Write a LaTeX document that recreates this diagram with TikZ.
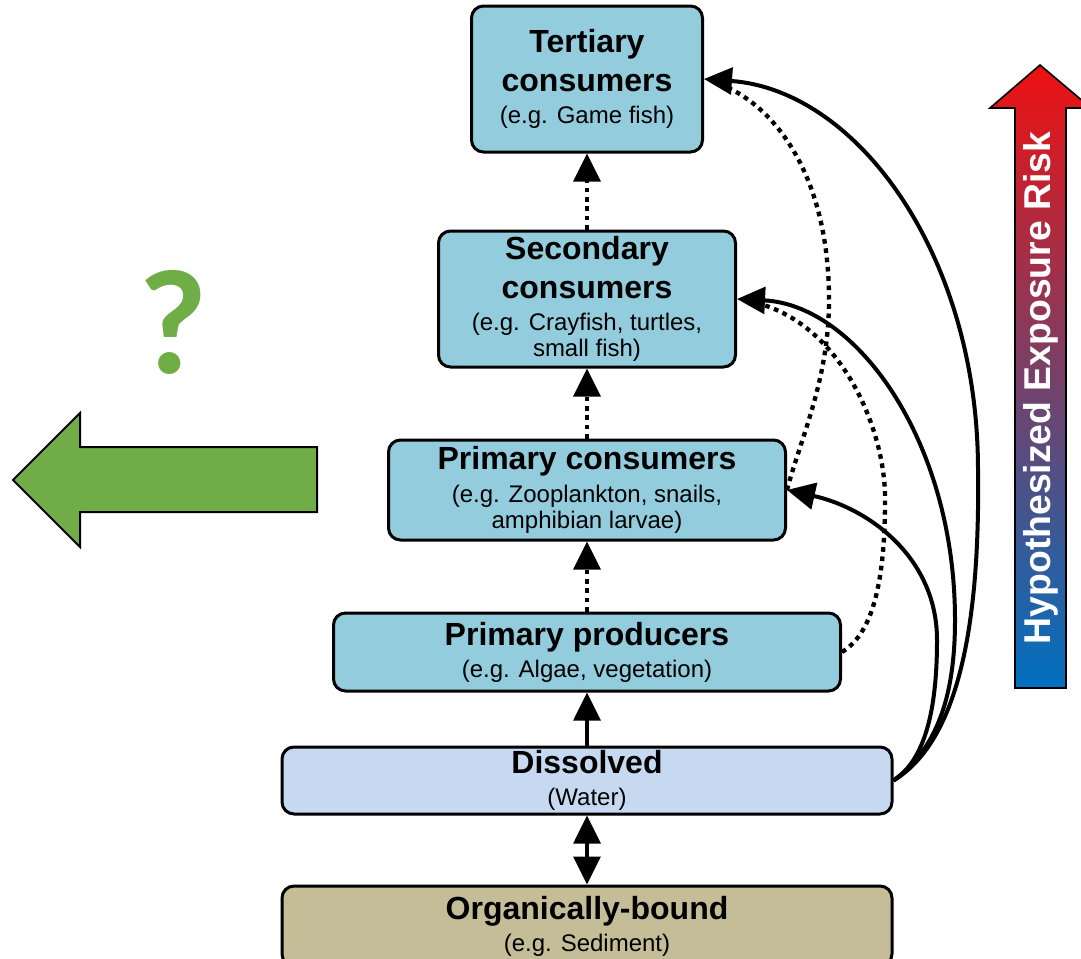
\documentclass[tikz,border=0pt]{standalone}
\usepackage{fontspec}
\setmainfont{Liberation Sans}
\newfontfamily\qmarkfont{Carlito}
\usetikzlibrary{arrows.meta}

\definecolor{consumerblue}{HTML}{93CDDD}
\definecolor{waterblue}{HTML}{C6D9F1}
\definecolor{sedimenttan}{HTML}{C4BD97}
\definecolor{leafgreen}{HTML}{70AD47}
\definecolor{riskred}{HTML}{EE1111}
\definecolor{riskpurple}{HTML}{7F60A6}
\definecolor{riskblue}{HTML}{0070C0}

\newcommand{\titletext}{\bfseries\fontsize{24}{20}\selectfont}
\newcommand{\notetext}{\normalfont\fontsize{18}{20}\selectfont}

\begin{document}
\begin{tikzpicture}[x=0.75pt, y=0.75pt,
			foodnode/.style={rectangle, rounded corners=9pt, draw=black, line width=2.25pt, fill=consumerblue, align=center, inner sep=0pt, font=\notetext},
			waternode/.style={foodnode, fill=waterblue},
			sedimentnode/.style={foodnode, fill=sedimenttan},
			solidlink/.style={line width=3pt, -{Triangle[length=21pt,width=20pt]}},
			dottedlink/.style={solidlink, line width=3.25pt, dash pattern=on 3.5pt off 3.5pt},
			dottedcurve/.style={line width=3.25pt, dash pattern=on 3.5pt off 3.5pt, shorten >=8pt},
			]
			\useasboundingbox (0,0) rectangle (1081,-958);

			%Nodes
			\node[foodnode, minimum width=173.25pt, minimum height=109.5pt] (tert) at (587,-79)
				{\titletext Tertiary\\[9pt]\titletext consumers\\[4pt]\notetext (e.g. Game fish)};
			\node[foodnode, minimum width=222.75pt, minimum height=102pt] (sec) at (587,-299)
				{\titletext Secondary\\[9pt]\titletext consumers\\[4pt]\notetext (e.g. Crayfish, turtles,\\\notetext small fish)};
			\node[foodnode, minimum width=297.75pt, minimum height=75pt] (pc) at (587,-490)
				{\titletext Primary consumers\\[4.5pt]\notetext (e.g. Zooplankton, snails,\\\notetext amphibian larvae)};
			\node[foodnode, minimum width=380.25pt, minimum height=58.5pt] (pp) at (587,-652)
				{\titletext Primary producers\\[4pt]\notetext (e.g. Algae, vegetation)};
			\node[waternode, minimum width=457.5pt, minimum height=50.25pt] (dis) at (587,-780.5)
				{\titletext Dissolved\\[4pt]\notetext (Water)};
			\node[sedimentnode, minimum width=457.5pt, minimum height=60pt] (org) at (587,-926)
				{\titletext Organically-bound\\[4pt]\notetext (e.g. Sediment)};

			%Links up the chain
			\draw[line width=3pt, {Triangle[length=21pt,width=20pt]}-{Triangle[length=21pt,width=20pt]}] (org.north) -- (dis.south);
			\draw[solidlink] (dis.north) -- (pp.south);
			\draw[dottedlink] (pp.north) -- (pc.south);
			\draw[dottedlink] (pc.north) -- (sec.south);
			\draw[dottedlink] (sec.north) -- (tert.south);

			%Side paths
			\draw[dottedcurve] (pc.east) .. controls (800,-440) and (829,-380) .. (829,-300) .. controls (829,-170) and (770,-100) .. (tert.east);
			\draw[dottedcurve] (pp.east) .. controls (870,-635) and (885,-590) .. (885,-500) .. controls (886,-430) and (840,-318) .. (sec.east);
			\draw[solidlink] (dis.east) .. controls (925,-760) and (937,-710) .. (937,-640) .. controls (937,-557) and (868,-508) .. (pc.east);
			\draw[solidlink] (dis.east) .. controls (935,-750) and (955,-700) .. (955,-620) .. controls (955,-442) and (857,-305) .. (sec.east);
			\draw[solidlink] (dis.east) .. controls (960,-740) and (980,-620) .. (978,-470) .. controls (978,-255) and (857,-90) .. (tert.east);

			%Risk arrow
			\shade[draw=black, line width=1.2pt, top color=riskred, middle color=riskpurple, bottom color=riskblue]
				(1015,-688) -- (1015,-108) -- (990,-108) -- (1040,-65) -- (1091,-108) -- (1066,-108) -- (1066,-688) -- cycle;
			\node[rotate=90, text=white, font=\bfseries\fontsize{28}{28}\selectfont] (risk) at (1041,-388) {Hypothesized Exposure Risk};

			%Question and green arrow
			\node[text=leafgreen, font=\qmarkfont\bfseries\fontsize{112}{112}\selectfont] (qmark) at (173,-322) {?};
			\draw[fill=leafgreen, line width=1.5pt] (13,-480) -- (80,-413) -- (80,-447) -- (317,-447) -- (317,-512) -- (80,-512) -- (80,-547) -- cycle;
\end{tikzpicture}
\end{document}
